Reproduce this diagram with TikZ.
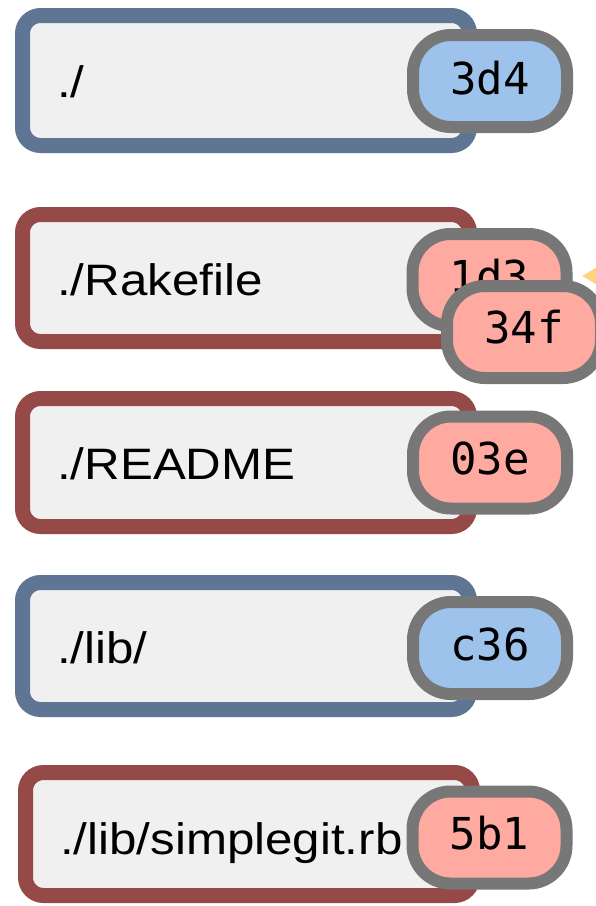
\documentclass[tikz,border=0pt]{standalone}
\usepackage{fontspec}
\setmainfont{Liberation Sans}
\newfontfamily\labfont[FakeStretch=1.12]{Liberation Sans}
\newfontfamily\hashfont{DejaVu Sans Mono}
\usetikzlibrary{arrows.meta,calc}
\definecolor{bluebord}{HTML}{5E7694}
\definecolor{redbord}{HTML}{954A47}
\definecolor{boxfill}{HTML}{F0F0F0}
\definecolor{pillgray}{HTML}{777777}
\definecolor{pillblue}{HTML}{9DC2EB}
\definecolor{pillred}{HTML}{FFAAA1}
\definecolor{arrowyellow}{HTML}{FFD37F}
\begin{document}
\begin{tikzpicture}[x=1pt,y=-1pt,
  treebox/.style={draw, line width=15pt, fill=boxfill, rounded corners=18pt,
    minimum width=447pt, inner sep=0pt},
  treeB/.style={treebox, draw=bluebord},
  blobB/.style={treebox, draw=redbord},
  pathlabel/.style={anchor=base west, inner sep=0pt, font=\labfont\fontsize{44}{50}\selectfont},
  pill/.style={draw=pillgray, line width=12pt, rounded corners=38pt,
    minimum width=154pt, minimum height=92pt, inner sep=0pt},
  pillB/.style={pill, fill=pillblue},
  pillR/.style={pill, fill=pillred},
  hashtext/.style={anchor=base, inner sep=0pt, font=\hashfont\fontsize{44}{50}\selectfont}
]
\useasboundingbox (0,0) rectangle (596,906);
\clip (0,0) rectangle (596,906);

% tree / blob boxes
\node[treeB, minimum height=130pt] (b1) at (246,80.5) {};
\node[blobB, minimum height=127pt] (b2) at (246,278) {};
\node[blobB, minimum height=128pt] (b3) at (246,462.5) {};
\node[treeB, minimum height=127pt] (b4) at (246,646) {};
\node[blobB, minimum height=123pt] (b5) at (249,834) {};

% labels
\node[pathlabel] (l1) at (57,97.5) {./};
\node[pathlabel] (l2) at (57,295) {./Rakefile};
\node[pathlabel] (l3) at (57,479.5) {./README};
\node[pathlabel] (l4) at (57,663) {./lib/};
\node[pathlabel] (l5) at (60,854) {./lib/simplegit.rb};

% hash pills
\node[pillB] (h1) at (490,81) {};
\node[hashtext] (t1) at ($(h1.center)+(0,13)$) {3d4};

\node[pillR] (h2) at (489.5,280) {};
\node[hashtext] (t2) at ($(h2.center)+(0,12)$) {1d3};

\coordinate (arrsrc) at (720,276);
\draw[line width=8pt, draw=arrowyellow, fill=arrowyellow,
  -{Triangle[length=40pt,width=46pt]}, shorten >=9.5pt]
  (arrsrc) -- (h2.east |- arrsrc);

\node[pillR] (h2b) at (524,332) {};
\node[hashtext] (t2b) at ($(h2b.center)+(0,11)$) {34f};

\node[pillR] (h3) at (490,462.5) {};
\node[hashtext] (t3) at ($(h3.center)+(0,12)$) {03e};

\node[pillB] (h4) at (490,648) {};
\node[hashtext] (t4) at ($(h4.center)+(0,12)$) {c36};

\node[pillR] (h5) at (489.5,837.5) {};
\node[hashtext] (t5) at ($(h5.center)+(0,12)$) {5b1};
\end{tikzpicture}
\end{document}
